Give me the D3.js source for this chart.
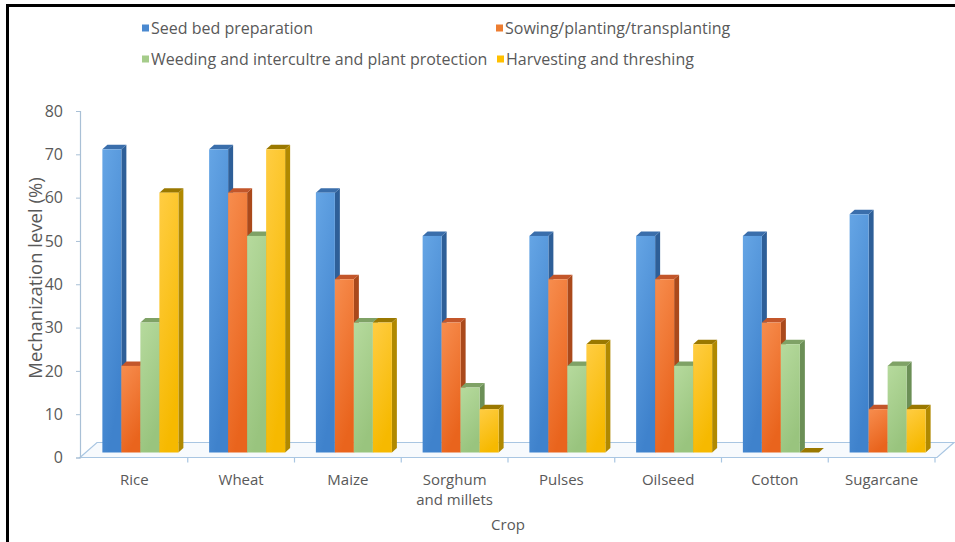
<!DOCTYPE html>
<html>
<head>
<meta charset="utf-8">
<script src="https://cdn.jsdelivr.net/npm/d3@7/dist/d3.min.js"></script>
<style>
  body { margin: 0; background: #fff; }
  svg { display: block; }
  text { font-family: "Open Sans", "Noto Sans", sans-serif; fill: #595959; }
</style>
</head>
<body>
<svg id="chart" width="955" height="542"></svg>
<script>
// Crop categories (x axis) and their wrapped label lines
const crops = ["Rice", "Wheat", "Maize", "Sorghum and millets", "Pulses", "Oilseed", "Cotton", "Sugarcane"];
const cropLabelLines = [["Rice"], ["Wheat"], ["Maize"], ["Sorghum", "and millets"], ["Pulses"], ["Oilseed"], ["Cotton"], ["Sugarcane"]];

// Operations (series)
const operations = [
  "Seed bed preparation",
  "Sowing/planting/transplanting",
  "Weeding and intercultre and plant protection",
  "Harvesting and threshing"
];

// Mechanization level (%) per crop, one array per operation
const seedBedPreparation = [70, 70, 60, 50, 50, 50, 50, 55];
const sowingPlanting     = [20, 60, 40, 30, 40, 40, 30, 10];
const weedingProtection  = [30, 50, 30, 15, 20, 20, 25, 20];
const harvestThreshing   = [60, 70, 30, 10, 25, 25,  0, 10];

const yTicks = [0, 10, 20, 30, 40, 50, 60, 70, 80];
const yTitle = "Mechanization level (%)";
const xTitle = "Crop";

const seriesValues = [seedBedPreparation, sowingPlanting, weedingProtection, harvestThreshing];

// Face colours for each series: front gradient (top, bottom), side, top cap
const palette = [
  { light: "#65a5e5", dark: "#3f82cc", side: "#2e5f98", cap: "#3a6eab" },
  { light: "#f78d4e", dark: "#e9641d", side: "#aa491b", cap: "#c3562a" },
  { light: "#b6da9d", dark: "#99c47e", side: "#6b8f56", cap: "#7fa266" },
  { light: "#ffcd43", dark: "#f6b900", side: "#b08900", cap: "#9a7800" }
];
const legendSwatch = ["#4a89d0", "#ed7d31", "#a5cc8a", "#ffc000"];

const svg = d3.select("#chart");
const defs = svg.append("defs");
palette.forEach((p, i) => {
  const g = defs.append("linearGradient")
    .attr("id", "front" + i).attr("x1", 0).attr("y1", 0).attr("x2", 0.35).attr("y2", 1);
  g.append("stop").attr("offset", "0%").attr("stop-color", p.light);
  g.append("stop").attr("offset", "100%").attr("stop-color", p.dark);
});

// Frame lines on the left and top
svg.append("rect").attr("x", 6).attr("y", 4).attr("width", 949).attr("height", 3).attr("fill", "#000");
svg.append("rect").attr("x", 6).attr("y", 4).attr("width", 3).attr("height", 538).attr("fill", "#000");

// Scales
const x = d3.scaleBand().domain(crops).range([81, 935]).paddingInner(0).paddingOuter(0);
const groupWidth = 76;
const inner = d3.scaleBand().domain(operations).range([0, groupWidth]);
const y = d3.scaleLinear().domain([0, 80]).range([457.5, 111]);

// 3D projection offsets
const floorDepth = { dx: 17, dy: -15 };   // depth of the floor
const barShift = { dx: 6, dy: -5 };       // bars stand in the middle of the floor
const barDepth = { dx: 5, dy: -4.5 };     // thickness of each column

// Floor
const x0 = 80, x1 = 937, yf = y(0);
svg.append("polygon")
  .attr("points", [
    [x0, yf], [x1, yf], [x1 + floorDepth.dx, yf + floorDepth.dy], [x0 + floorDepth.dx, yf + floorDepth.dy]
  ].map(p => p.join(",")).join(" "))
  .attr("fill", "#f7fafd")
  .attr("stroke", "#a9c6e2")
  .attr("stroke-width", 1.2);

// Category boundary ticks on the floor's front edge
const boundaries = crops.map(c => x(c)).concat([x.range()[1]]).slice(1);
svg.append("g").selectAll("line").data(boundaries).join("line")
  .attr("x1", d => d).attr("x2", d => d)
  .attr("y1", yf).attr("y2", yf + 5)
  .attr("stroke", "#a9c6e2").attr("stroke-width", 1.2);

// Value axis
const yAxis = d3.axisLeft(y).tickValues(yTicks).tickSize(4).tickPadding(13).tickFormat(d3.format("d"));
const yAxisG = svg.append("g").attr("transform", "translate(80,0)").call(yAxis);
yAxisG.select(".domain").attr("stroke", "#a9c0d6").attr("stroke-width", 1.2);
yAxisG.selectAll(".tick line").attr("stroke", "#a9c0d6");
yAxisG.selectAll(".tick text")
  .style("font-family", '"Open Sans", "Noto Sans", sans-serif')
  .style("font-size", "16px").attr("fill", "#595959");

// Columns
const bars = [];
crops.forEach((c, ci) => {
  operations.forEach((op, si) => {
    bars.push({ crop: c, ci, si, value: seriesValues[si][ci] });
  });
});

const barG = svg.append("g");
const bar = barG.selectAll("g.bar").data(bars).join("g").attr("class", "bar");

function geom(d) {
  const left = x(d.crop) + (x.bandwidth() - groupWidth) / 2 + inner(operations[d.si]) + barShift.dx;
  const w = inner.bandwidth();
  const top = y(d.value) + barShift.dy;
  const bottom = y(0) + barShift.dy;
  return { left, w, top, bottom };
}

// side face
bar.append("polygon")
  .attr("points", d => {
    const g = geom(d);
    const r = g.left + g.w;
    return [[r, g.top], [r + barDepth.dx, g.top + barDepth.dy], [r + barDepth.dx, g.bottom + barDepth.dy], [r, g.bottom]]
      .map(p => p.join(",")).join(" ");
  })
  .attr("fill", d => palette[d.si].side);

// top cap
bar.append("polygon")
  .attr("points", d => {
    const g = geom(d);
    const r = g.left + g.w;
    return [[g.left, g.top], [r, g.top], [r + barDepth.dx, g.top + barDepth.dy], [g.left + barDepth.dx, g.top + barDepth.dy]]
      .map(p => p.join(",")).join(" ");
  })
  .attr("fill", d => palette[d.si].cap);

// front face
bar.append("rect")
  .attr("x", d => geom(d).left)
  .attr("y", d => geom(d).top)
  .attr("width", d => geom(d).w)
  .attr("height", d => geom(d).bottom - geom(d).top)
  .attr("fill", d => `url(#front${d.si})`);

// Category labels
const labelG = svg.append("g").attr("font-size", 15);
labelG.selectAll("text").data(crops).join("text")
  .attr("text-anchor", "middle")
  .attr("x", d => x(d) + x.bandwidth() / 2)
  .attr("y", 485)
  .each(function (d, i) {
    d3.select(this).selectAll("tspan").data(cropLabelLines[i]).join("tspan")
      .attr("x", x(d) + x.bandwidth() / 2)
      .attr("dy", (t, k) => k === 0 ? 0 : 20)
      .text(t => t);
  });

// Axis titles
svg.append("text")
  .attr("x", 508).attr("y", 530)
  .attr("text-anchor", "middle").attr("font-size", 15)
  .text(xTitle);

svg.append("text")
  .attr("transform", "translate(42,278) rotate(-90)")
  .attr("text-anchor", "middle").attr("font-size", 18.5)
  .text(yTitle);

// Legend (two rows, two entries each)
const legendPos = [
  { x: 142, y: 28 }, { x: 496, y: 28 },
  { x: 142, y: 59 }, { x: 497, y: 59 }
];
const legend = svg.append("g").selectAll("g").data(operations).join("g")
  .attr("transform", (d, i) => `translate(${legendPos[i].x},${legendPos[i].y})`);
legend.append("rect")
  .attr("x", 0).attr("y", -3.5).attr("width", 7).attr("height", 7)
  .attr("fill", (d, i) => legendSwatch[i]);
legend.append("text")
  .attr("x", 9).attr("y", 0).attr("dy", "0.35em")
  .attr("font-size", 16)
  .text(d => d);
</script>
</body>
</html>
